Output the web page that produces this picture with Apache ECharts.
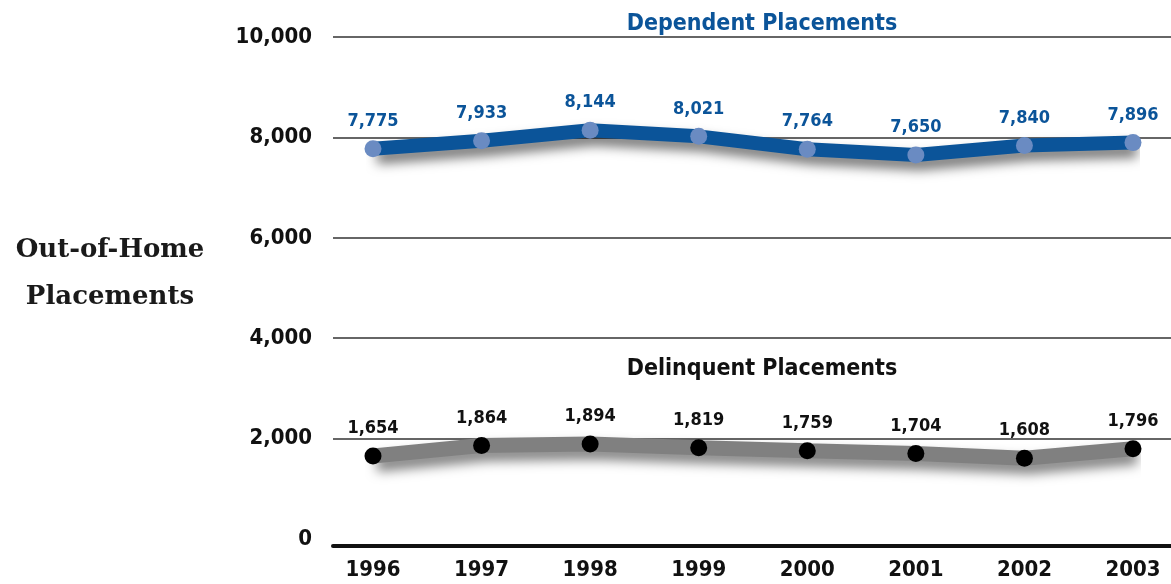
<!DOCTYPE html>
<html>
<head>
<meta charset="utf-8">
<script src="https://cdn.jsdelivr.net/npm/echarts@6/dist/echarts.min.js"></script>
<style>
  html, body { margin: 0; padding: 0; background: #fff; }
  #chart { width: 1171px; height: 584px; }
</style>
</head>
<body>
<div id="chart"></div>
<script>
// 数据
var years = ['1996', '1997', '1998', '1999', '2000', '2001', '2002', '2003'];
var dependent = [7775, 7933, 8144, 8021, 7764, 7650, 7840, 7896];
var delinquent = [1654, 1864, 1894, 1819, 1759, 1704, 1608, 1796];
var yTicks = { min: 0, max: 10000, interval: 2000 };

var narrow = '"Liberation Sans Narrow", "DejaVu Sans Condensed", "Roboto Condensed", "Liberation Sans", sans-serif';
var fmt = function (v) { return Number(v).toLocaleString('en-US'); };

var myEcharts = echarts.init(document.getElementById('chart'));
myEcharts.setOption({
    backgroundColor: '#fff',
    animation: false,
    title: [
        {
            text: 'Dependent Placements', left: 757, top: 8, textAlign: 'center',
            textStyle: { color: '#0b5499', fontFamily: narrow, fontWeight: 'bold', fontSize: 23 }
        },
        {
            text: 'Delinquent Placements', left: 757, top: 353, textAlign: 'center',
            textStyle: { color: '#111', fontFamily: narrow, fontWeight: 'bold', fontSize: 23 }
        }
    ],
    graphic: [
        {
            type: 'text',
            style: {
                text: 'Out-of-Home', x: 110, y: 250, textAlign: 'center', textVerticalAlign: 'middle',
                font: 'bold 26px "DejaVu Serif", "Liberation Serif", serif', fill: '#1a1a1a'
            }
        },
        {
            type: 'text',
            style: {
                text: 'Placements', x: 110, y: 297, textAlign: 'center', textVerticalAlign: 'middle',
                font: 'bold 26px "DejaVu Serif", "Liberation Serif", serif', fill: '#1a1a1a'
            }
        }
    ],
    grid: [
        { left: 373, right: 38, top: 37, bottom: 45 },
        { left: 333, right: 0, top: 37, bottom: 45 }
    ],
    xAxis: [
        {
            type: 'category', gridIndex: 0, data: years, boundaryGap: false,
            axisLine: { show: false }, axisTick: { show: false },
            axisLabel: { margin: 20, color: '#111', fontFamily: narrow, fontWeight: 'bold', fontSize: 22 }
        },
        {
            type: 'value', gridIndex: 1, min: 0, max: 1, position: 'bottom', offset: 7,
            axisLine: { show: true, onZero: false, lineStyle: { color: '#111', width: 4 } },
            axisTick: { show: false }, axisLabel: { show: false }, splitLine: { show: false }
        }
    ],
    yAxis: [
        {
            type: 'value', gridIndex: 0, min: yTicks.min, max: yTicks.max, interval: yTicks.interval,
            axisLine: { show: false }, axisTick: { show: false }, axisLabel: { show: false }, splitLine: { show: false }
        },
        {
            type: 'value', gridIndex: 1, min: yTicks.min, max: yTicks.max, interval: yTicks.interval,
            axisLine: { show: false }, axisTick: { show: false },
            axisLabel: {
                margin: 21, color: '#111', fontFamily: narrow, fontWeight: 'bold', fontSize: 22,
                formatter: fmt
            },
            splitLine: {
                show: true,
                // no thin line at 0, the thick base line sits just under it
                lineStyle: { color: ['transparent', '#333', '#333', '#333', '#333', '#333'], width: 1.5 }
            }
        }
    ],
    series: [
        {
            name: 'Dependent Placements', type: 'line', xAxisIndex: 0, yAxisIndex: 0,
            data: dependent, symbol: 'circle', symbolSize: 17,
            lineStyle: {
                color: '#0b5499', width: 14,
                shadowColor: 'rgba(0,0,0,0.55)', shadowBlur: 12, shadowOffsetX: 4, shadowOffsetY: 8
            },
            itemStyle: { color: '#6a8bc2' },
            label: {
                show: true, position: 'top', distance: 10,
                color: '#0b5499', fontFamily: narrow, fontWeight: 'bold', fontSize: 18,
                formatter: function (p) { return fmt(p.value); }
            }
        },
        {
            name: 'Delinquent Placements', type: 'line', xAxisIndex: 0, yAxisIndex: 0,
            data: delinquent, symbol: 'circle', symbolSize: 17,
            lineStyle: {
                color: '#808080', width: 15,
                shadowColor: 'rgba(0,0,0,0.5)', shadowBlur: 12, shadowOffsetX: 4, shadowOffsetY: 8
            },
            itemStyle: { color: '#000' },
            label: {
                show: true, position: 'top', distance: 10,
                color: '#111', fontFamily: narrow, fontWeight: 'bold', fontSize: 18,
                formatter: function (p) { return fmt(p.value); }
            }
        }
    ]
});
window.onresize = myEcharts.resize;
</script>
</body>
</html>
